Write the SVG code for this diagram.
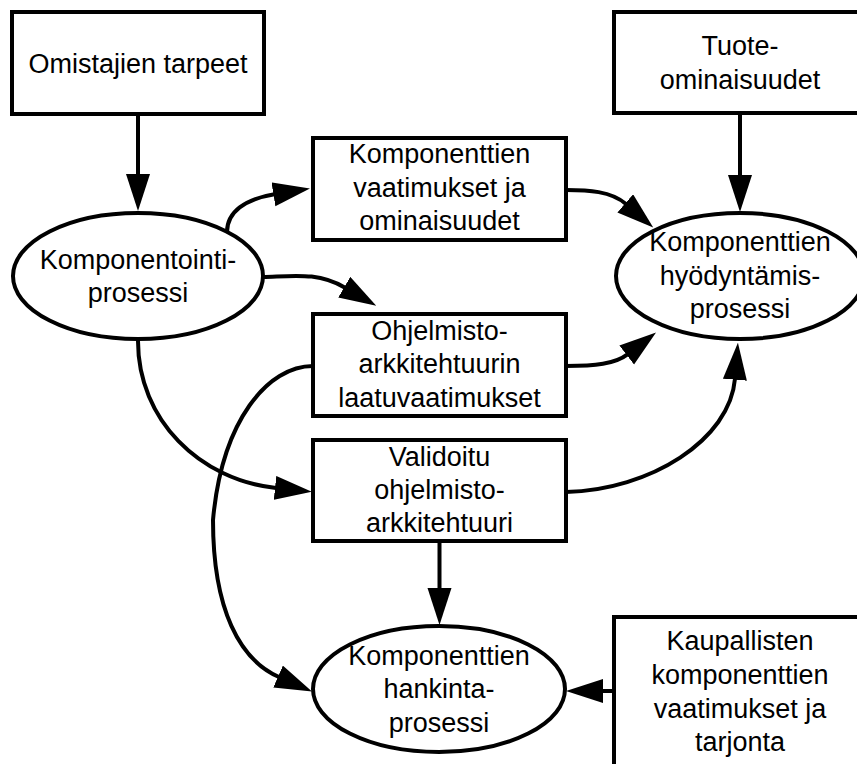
<svg xmlns="http://www.w3.org/2000/svg" width="857" height="764" viewBox="0 0 857 764">
  <style>
    .box { fill: #fff; stroke: #000; stroke-width: 4; }
    .proc { fill: #fff; stroke: #000; stroke-width: 4; }
    .lbl { font-family: "Liberation Sans", Arial, Helvetica, sans-serif; font-size: 27px; fill: #000; text-anchor: middle; }
    .edge { fill: none; stroke: #000; stroke-width: 4; }
  </style>
  <defs>
    <marker id="arrow" markerUnits="userSpaceOnUse" markerWidth="40" markerHeight="26" refX="1" refY="12" orient="auto">
      <path d="M0,0 L37,12 L0,24 z" fill="#000"/>
    </marker>
  </defs>

  <rect width="857" height="764" fill="#fff"/>

  <!-- connectors -->
  <g id="connectors">
    <path class="edge" d="M138,114 L138,175" marker-end="url(#arrow)"/>
    <path class="edge" d="M740,113 L740,176" marker-end="url(#arrow)"/>
    <path class="edge" d="M439.5,541 L439.5,589" marker-end="url(#arrow)"/>
    <path class="edge" d="M614,691 L602,691" marker-end="url(#arrow)"/>
    <path class="edge" d="M227,232 C227,212 245,199 274.4,194.2" marker-end="url(#arrow)"/>
    <path class="edge" d="M263,277 C295,276 318,272 345.1,287.7" marker-end="url(#arrow)"/>
    <path class="edge" d="M138,341 C138,420 200,480 276,488" marker-end="url(#arrow)"/>
    <path class="edge" d="M313,366 C268,366 222,420 213,520 C213,610 240,660 279,677" marker-end="url(#arrow)"/>
    <path class="edge" d="M566,190 C588,190 611,191 626,204" marker-end="url(#arrow)"/>
    <path class="edge" d="M566,366 C595,366 615,364 627.5,354.4" marker-end="url(#arrow)"/>
    <path class="edge" d="M566,492 C650,490 730,440 735,378.7" marker-end="url(#arrow)"/>
  </g>

  <g id="omistajien-tarpeet">
    <rect class="box" x="12" y="12" width="252" height="102"/>
    <text class="lbl" x="138" y="73">Omistajien tarpeet</text>
  </g>

  <g id="tuoteominaisuudet">
    <rect class="box" x="614" y="12" width="252" height="101"/>
    <text class="lbl" x="740" y="55">Tuote-</text>
    <text class="lbl" x="740" y="89">ominaisuudet</text>
  </g>

  <g id="komponentointiprosessi">
    <ellipse class="proc" cx="138" cy="276" rx="125" ry="63"/>
    <text class="lbl" x="138" y="269">Komponentointi-</text>
    <text class="lbl" x="138" y="302">prosessi</text>
  </g>

  <g id="komponenttien-vaatimukset">
    <rect class="box" x="313" y="138" width="253" height="102"/>
    <text class="lbl" x="439.5" y="163">Komponenttien</text>
    <text class="lbl" x="439.5" y="197">vaatimukset ja</text>
    <text class="lbl" x="439.5" y="230">ominaisuudet</text>
  </g>

  <g id="hyodyntamisprosessi">
    <ellipse class="proc" cx="740" cy="276" rx="124" ry="63"/>
    <text class="lbl" x="740" y="251">Komponenttien</text>
    <text class="lbl" x="740" y="285">hyödyntämis-</text>
    <text class="lbl" x="740" y="318">prosessi</text>
  </g>

  <g id="laatuvaatimukset">
    <rect class="box" x="313" y="314" width="253" height="102"/>
    <text class="lbl" x="439.5" y="340">Ohjelmisto-</text>
    <text class="lbl" x="439.5" y="373">arkkitehtuurin</text>
    <text class="lbl" x="439.5" y="407">laatuvaatimukset</text>
  </g>

  <g id="validoitu-arkkitehtuuri">
    <rect class="box" x="313" y="440" width="253" height="101"/>
    <text class="lbl" x="439.5" y="466">Validoitu</text>
    <text class="lbl" x="439.5" y="499">ohjelmisto-</text>
    <text class="lbl" x="439.5" y="532">arkkitehtuuri</text>
  </g>

  <g id="hankintaprosessi">
    <ellipse class="proc" cx="439" cy="689" rx="126" ry="63"/>
    <text class="lbl" x="439" y="665">Komponenttien</text>
    <text class="lbl" x="439" y="698">hankinta-</text>
    <text class="lbl" x="439" y="732">prosessi</text>
  </g>

  <g id="kaupalliset-komponentit">
    <rect class="box" x="614" y="617" width="252" height="160"/>
    <text class="lbl" x="740" y="650">Kaupallisten</text>
    <text class="lbl" x="740" y="684">komponenttien</text>
    <text class="lbl" x="740" y="718">vaatimukset ja</text>
    <text class="lbl" x="740" y="751">tarjonta</text>
  </g>
</svg>
